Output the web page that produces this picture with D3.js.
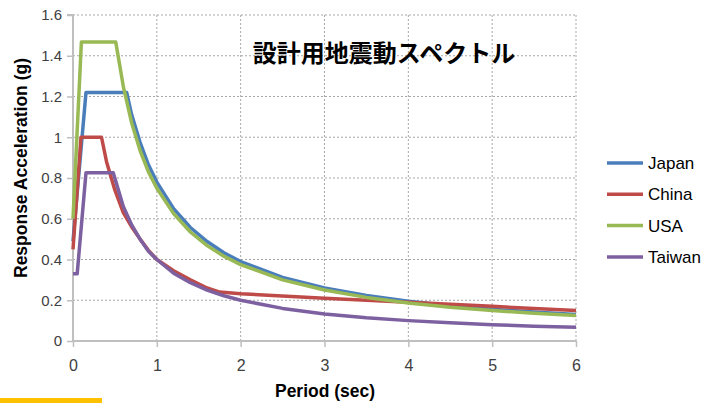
<!DOCTYPE html>
<html>
<head>
<meta charset="utf-8">
<script src="https://cdn.jsdelivr.net/npm/d3@7"></script>
<style>
body { margin: 0; background: #fff; }
svg { display: block; }
.tick text { font-family: "Liberation Sans", Arial, sans-serif; font-size: 15px; fill: #404040; }
</style>
</head>
<body>
<div id="chart"></div>
<script>
// values: [period (sec), acceleration (g)]
const japan = [[0,0.49],[0.155,1.22],[0.64,1.22],[0.7,1.11],[0.8,0.975],[0.9,0.865],[1,0.78],[1.2,0.65],[1.4,0.557],[1.6,0.488],[1.8,0.433],[2,0.39],[2.5,0.312],[3,0.26],[3.5,0.223],[4,0.195],[4.5,0.173],[5,0.156],[5.5,0.142],[6,0.13]]
const china = [[0,0.45],[0.095,1.0],[0.34,1.0],[0.4,0.88],[0.5,0.74],[0.6,0.63],[0.7,0.56],[0.8,0.5],[0.9,0.445],[1,0.4],[1.2,0.345],[1.4,0.3],[1.6,0.26],[1.75,0.24],[2,0.232],[3,0.21],[4,0.19],[5,0.17],[6,0.15]]
const usa = [[0,0.6],[0.1,1.467],[0.51,1.467],[0.6,1.25],[0.7,1.07],[0.8,0.935],[0.9,0.83],[1,0.75],[1.2,0.625],[1.4,0.535],[1.6,0.468],[1.8,0.416],[2,0.375],[2.5,0.3],[3,0.25],[3.5,0.214],[4,0.187],[4.5,0.166],[5,0.15],[5.5,0.136],[6,0.125]]
const taiwan = [[0,0.33],[0.05,0.33],[0.155,0.826],[0.48,0.826],[0.6,0.66],[0.7,0.57],[0.8,0.5],[0.9,0.44],[1,0.4],[1.2,0.333],[1.4,0.286],[1.6,0.25],[1.8,0.222],[2,0.2],[2.5,0.16],[3,0.133],[3.5,0.114],[4,0.1],[4.5,0.089],[5,0.08],[5.5,0.073],[6,0.067]]

const seriesNames = ["Japan", "China", "USA", "Taiwan"]
const seriesData = [japan, china, usa, taiwan]
const seriesColors = ["#4a7ebb", "#be4b48", "#98b954", "#7d60a0"]

const xTicks = [0, 1, 2, 3, 4, 5, 6]
const yTicks = [0, 0.2, 0.4, 0.6, 0.8, 1, 1.2, 1.4, 1.6]

const width = 722, height = 403
const margin = {top: 15, right: 146, bottom: 62, left: 73}

const svg = d3.select("#chart").append("svg")
	.attr("width", width)
	.attr("height", height)

const x = d3.scaleLinear().domain([0, 6]).range([margin.left, width - margin.right])
const y = d3.scaleLinear().domain([0, 1.6]).range([height - margin.bottom, margin.top])

// gridlines
svg.append("g")
	.selectAll("line")
	.data(yTicks.filter(d => d > 0))
	.enter().append("line")
	.attr("x1", x(0)).attr("x2", x(6))
	.attr("y1", d => y(d)).attr("y2", d => y(d))
	.attr("stroke", "#a6a6a6").attr("stroke-width", 1).attr("stroke-dasharray", "2,2")

svg.append("g")
	.selectAll("line")
	.data(xTicks.filter(d => d > 0))
	.enter().append("line")
	.attr("x1", d => x(d)).attr("x2", d => x(d))
	.attr("y1", y(0)).attr("y2", y(1.6))
	.attr("stroke", "#a6a6a6").attr("stroke-width", 1).attr("stroke-dasharray", "2,2")

// axes
const yAxis = svg.append("g")
	.attr("transform", "translate(" + x(0) + ",0)")
	.call(d3.axisLeft(y).tickValues(yTicks).tickFormat(d3.format("~g")).tickSize(6).tickPadding(5))
const xAxis = svg.append("g")
	.attr("transform", "translate(0," + y(0) + ")")
	.call(d3.axisBottom(x).tickValues(xTicks).tickFormat(d3.format("d")).tickSize(6).tickPadding(13))

svg.selectAll(".domain").attr("stroke", "#bfbfbf").attr("stroke-width", 2)
svg.selectAll(".tick line").attr("stroke", "#bfbfbf").attr("stroke-width", 1.5)
yAxis.select(".domain").attr("d", "M-6," + y(1.6) + "H0V" + y(0))
xAxis.select(".domain").attr("d", "M" + x(0) + ",0H" + x(6))
xAxis.selectAll(".tick text").style("font-size", "16px")

// series
const line = d3.line().x(d => x(d[0])).y(d => y(d[1]))
svg.append("g")
	.selectAll("path")
	.data(seriesData)
	.enter().append("path")
	.attr("d", line)
	.attr("fill", "none")
	.attr("stroke", (d, i) => seriesColors[i])
	.attr("stroke-width", 3.5)
	.attr("stroke-linejoin", "round")

// legend
const legend = svg.append("g").attr("transform", "translate(607,163)")
seriesNames.forEach(function(name, i) {
	let g = legend.append("g").attr("transform", "translate(0," + (i * 31.3) + ")")
	g.append("line").attr("x1", 0).attr("x2", 36).attr("y1", 0).attr("y2", 0)
		.attr("stroke", seriesColors[i]).attr("stroke-width", 3.5)
	g.append("text").attr("x", 41).attr("y", 6)
		.style("font-family", "Liberation Sans, Arial, sans-serif").style("font-size", "17px")
		.attr("fill", "#000").text(name)
})

// title
svg.append("text")
	.attr("x", 384).attr("y", 62)
	.attr("text-anchor", "middle")
	.style("font-family", "Noto Sans CJK JP, sans-serif").style("font-size", "24px").style("font-weight", "bold")
	.text("設計用地震動スペクトル")

// axis titles (condensed bold look)
svg.append("text")
	.attr("x", 275).attr("y", 397)
	.attr("textLength", 100).attr("lengthAdjust", "spacingAndGlyphs")
	.style("font-family", "Liberation Sans, Arial, sans-serif").style("font-size", "19px").style("font-weight", "bold")
	.text("Period (sec)")

svg.append("text")
	.attr("transform", "translate(27,278) rotate(-90)")
	.attr("textLength", 220).attr("lengthAdjust", "spacingAndGlyphs")
	.style("font-family", "Liberation Sans, Arial, sans-serif").style("font-size", "18px").style("font-weight", "bold")
	.text("Response Acceleration (g)")

// yellow accent bar
svg.append("rect").attr("x", 0).attr("y", 398).attr("width", 102).attr("height", 5).attr("fill", "#ffc000")
</script>
</body>
</html>
